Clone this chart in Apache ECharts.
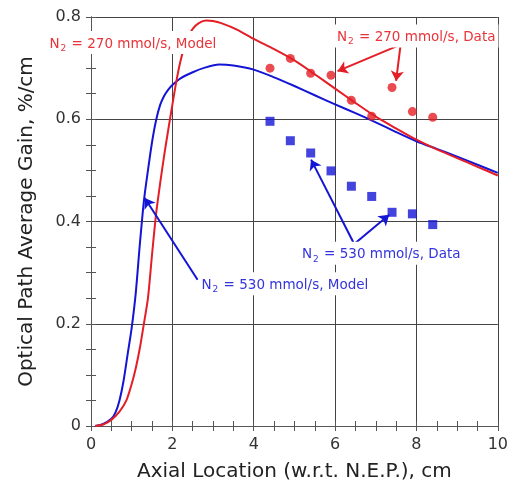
<!DOCTYPE html>
<html>
<head>
<meta charset="utf-8">
<script src="https://cdn.jsdelivr.net/npm/echarts/dist/echarts.min.js"></script>
<style>
html, body { margin: 0; padding: 0; background: #fff; }
#chart { width: 511px; height: 491px; }
</style>
</head>
<body>
<div id="chart"></div>
<script>
// Axial location (cm) and model gain (%/cm) for N2 = 270 mmol/s
const redModelX = [0.1, 0.3, 0.5, 0.7, 0.87, 1.0, 1.1, 1.2, 1.3, 1.4, 1.5, 1.6, 1.7, 1.8, 1.9, 2.0, 2.1, 2.2, 2.3, 2.4, 2.5, 2.65, 2.83, 3.0, 3.2, 3.6, 4.0, 4.5, 5.0, 5.5, 6.0, 6.5, 7.0, 7.5, 8.0, 8.5, 9.0, 9.5, 10.0];
const redModelY = [0.0, 0.003, 0.012, 0.028, 0.05, 0.082, 0.113, 0.152, 0.20, 0.25, 0.335, 0.415, 0.475, 0.53, 0.58, 0.628, 0.675, 0.714, 0.743, 0.763, 0.777, 0.788, 0.793, 0.792, 0.788, 0.775, 0.757, 0.737, 0.715, 0.688, 0.660, 0.632, 0.605, 0.582, 0.560, 0.541, 0.524, 0.507, 0.490];

// Model gain for N2 = 530 mmol/s
const blueModelX = [0.1, 0.3, 0.5, 0.6, 0.7, 0.8, 0.9, 1.0, 1.1, 1.2, 1.3, 1.4, 1.5, 1.6, 1.7, 1.8, 1.9, 2.0, 2.2, 2.5, 2.8, 3.15, 3.5, 4.0, 4.5, 5.0, 5.5, 6.0, 6.5, 7.0, 7.5, 8.0, 8.5, 9.0, 9.5, 10.0];
const blueModelY = [0.0, 0.004, 0.014, 0.026, 0.05, 0.088, 0.14, 0.192, 0.26, 0.355, 0.44, 0.50, 0.555, 0.598, 0.628, 0.646, 0.658, 0.667, 0.680, 0.692, 0.701, 0.707, 0.705, 0.697, 0.682, 0.665, 0.647, 0.629, 0.612, 0.594, 0.575, 0.557, 0.542, 0.527, 0.511, 0.495];

// Measured gain
const redDataX = [4.4, 4.9, 5.4, 5.9, 6.4, 6.9, 7.4, 7.9, 8.4];
const redDataY = [0.700, 0.719, 0.690, 0.686, 0.637, 0.606, 0.662, 0.615, 0.604];
const blueDataX = [4.4, 4.9, 5.4, 5.9, 6.4, 6.9, 7.4, 7.9, 8.4];
const blueDataY = [0.596, 0.558, 0.534, 0.499, 0.469, 0.449, 0.418, 0.415, 0.394];

const zip = (xs, ys) => xs.map((x, i) => [x, ys[i]]);

const RED = '#e41e26';
const BLUE = '#1414d4';
const RED_TXT = '#e8343a';
const BLUE_TXT = '#3434dc';
const FONT = 'DejaVu Sans';
const AXIS_COLOR = '#555';

function axisBase(extra) {
  return Object.assign({
    type: 'value',
    axisLine: { show: true, lineStyle: { color: AXIS_COLOR, width: 1 } },
    axisTick: { show: true, inside: true, length: 5, lineStyle: { color: AXIS_COLOR } },
    minorTick: { show: true, splitNumber: 4, length: 5, lineStyle: { color: AXIS_COLOR } },
    splitLine: { show: false },
    axisLabel: { show: false }
  }, extra);
}

function subLabel(text, color, offset) {
  return {
    show: true,
    position: 'right',
    distance: 0,
    offset: offset || [0, 0],
    formatter: '{n|N}{s|2}{n|' + text + '}',
    backgroundColor: '#fff',
    padding: [4, 3, 1, 3],
    rich: {
      n: { fontFamily: FONT, fontSize: 13.5, color: color, lineHeight: 16 },
      s: { fontFamily: FONT, fontSize: 9, color: color, padding: [9, 1, 0, 1] }
    }
  };
}

function arrow(from, to) {
  return [{ coord: from }, { coord: to }];
}

const chart = echarts.init(document.getElementById('chart'), null, { renderer: 'canvas' });

chart.setOption({
  animation: false,
  backgroundColor: '#fff',
  grid: { left: 91, right: 12, top: 17, bottom: 65, containLabel: false },
  xAxis: [
    axisBase({
      position: 'bottom', min: 0, max: 10, interval: 2,
      name: 'Axial Location (w.r.t. N.E.P.), cm',
      nameLocation: 'middle', nameGap: 36,
      nameTextStyle: { fontFamily: FONT, fontSize: 20, color: '#222' },
      axisLabel: { show: true, margin: 11, fontFamily: FONT, fontSize: 16, color: '#333' },
      splitLine: { show: true, lineStyle: { color: '#444', width: 1 } }
    }),
    axisBase({ position: 'top', min: 0, max: 10, interval: 2 })
  ],
  yAxis: [
    axisBase({
      position: 'left', min: 0, max: 0.8, interval: 0.2,
      name: 'Optical Path Average Gain, %/cm',
      nameLocation: 'middle', nameGap: 54,
      nameTextStyle: { fontFamily: FONT, fontSize: 20, color: '#222' },
      axisLabel: { show: true, margin: 10, fontFamily: FONT, fontSize: 16, color: '#333' },
      splitLine: { show: true, lineStyle: { color: '#444', width: 1 } }
    }),
    axisBase({ position: 'right', min: 0, max: 0.8, interval: 0.2 })
  ],
  series: [
    {
      name: 'N2 = 530 mmol/s, Model', type: 'line', data: zip(blueModelX, blueModelY),
      showSymbol: false, symbol: 'none', smooth: 0.25, z: 3,
      lineStyle: { color: BLUE, width: 2 }
    },
    {
      name: 'N2 = 270 mmol/s, Model', type: 'line', data: zip(redModelX, redModelY),
      showSymbol: false, symbol: 'none', smooth: 0.25, z: 3,
      lineStyle: { color: RED, width: 2 }
    },
    {
      name: 'N2 = 270 mmol/s, Data', type: 'scatter', data: zip(redDataX, redDataY),
      symbol: 'circle', symbolSize: 9, z: 4,
      itemStyle: { color: RED }
    },
    {
      name: 'N2 = 530 mmol/s, Data', type: 'scatter', data: zip(blueDataX, blueDataY),
      symbol: 'rect', symbolSize: 9, z: 4,
      itemStyle: { color: BLUE }
    },
    {
      // callout texts and arrows for the 270 mmol/s curves
      name: 'notes-red', type: 'scatter', data: [], z: 6, silent: true,
      markPoint: {
        symbol: 'circle', symbolSize: 1, silent: true,
        itemStyle: { color: 'rgba(0,0,0,0)' },
        data: [
          { coord: [0, 0.750], label: subLabel(' = 270 mmol/s, Model', RED_TXT, [-45, 0]) },
          { coord: [5.96, 0.763], label: subLabel(' = 270 mmol/s, Data', RED_TXT) }
        ]
      },
      markLine: {
        silent: true, symbol: ['none', 'arrow'], symbolSize: 10,
        label: { show: false },
        lineStyle: { color: RED, width: 2, type: 'solid' },
        data: [
          arrow([7.61, 0.746], [6.06, 0.694]),
          arrow([7.61, 0.746], [7.50, 0.675])
        ]
      }
    },
    {
      // callout texts and arrows for the 530 mmol/s curves
      name: 'notes-blue', type: 'scatter', data: [], z: 6, silent: true,
      markPoint: {
        symbol: 'circle', symbolSize: 1, silent: true,
        itemStyle: { color: 'rgba(0,0,0,0)' },
        data: [
          { coord: [5.1, 0.338], label: subLabel(' = 530 mmol/s, Data', BLUE_TXT) },
          { coord: [2.63, 0.278], label: subLabel(' = 530 mmol/s, Model', BLUE_TXT) }
        ]
      },
      markLine: {
        silent: true, symbol: ['none', 'arrow'], symbolSize: 10,
        label: { show: false },
        lineStyle: { color: BLUE, width: 2, type: 'solid' },
        data: [
          arrow([6.47, 0.356], [5.41, 0.521]),
          arrow([6.47, 0.356], [7.33, 0.413]),
          arrow([2.62, 0.286], [1.32, 0.446])
        ]
      }
    }
  ]
});
</script>
</body>
</html>
